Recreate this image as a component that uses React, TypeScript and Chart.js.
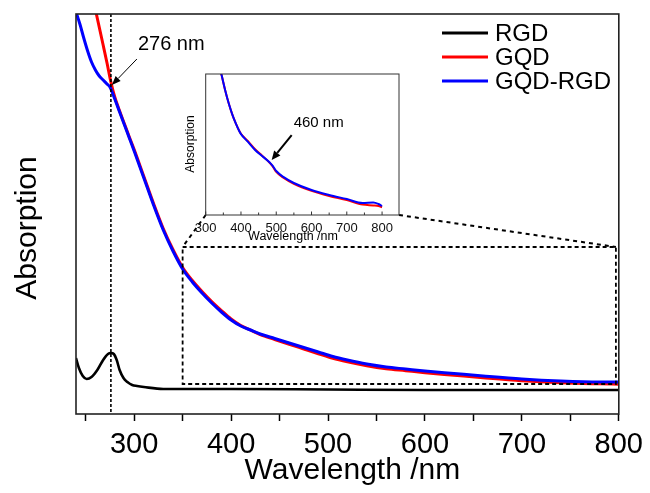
import React, { useEffect, useRef } from "react";
import { Chart, registerables } from "chart.js";

Chart.register(...registerables);

const FONT = 'Arial, "Liberation Sans", Helvetica, sans-serif';

// ---- Main spectra (wavelength in nm, absorbance in a.u.) ----
const wavelengthRGD = [240, 243, 247, 251, 256, 262, 268, 273, 276, 279, 282, 285, 289, 293, 298, 303, 310, 330, 400, 500, 600, 700, 800];
const absorptionRGD = [0.56, 0.46, 0.38, 0.35, 0.37, 0.44, 0.54, 0.6, 0.61, 0.6, 0.54, 0.44, 0.36, 0.32, 0.29, 0.28, 0.27, 0.25, 0.25, 0.245, 0.24, 0.24, 0.24];

const wavelengthGQD = [255, 261, 268, 272, 276, 280, 285, 290, 295, 300, 310, 320, 330, 340, 350, 360, 370, 380, 390, 400, 410, 420, 430, 445, 460, 475, 490, 505, 520, 540, 560, 580, 600, 630, 660, 700, 740, 780, 800];
const absorptionGQD = [4.26, 4.0, 3.69, 3.51, 3.32, 3.17, 3.03, 2.9, 2.77, 2.645, 2.375, 2.105, 1.855, 1.645, 1.465, 1.335, 1.225, 1.125, 1.035, 0.95, 0.885, 0.84, 0.795, 0.745, 0.697, 0.65, 0.603, 0.557, 0.522, 0.483, 0.453, 0.433, 0.413, 0.388, 0.363, 0.333, 0.313, 0.302, 0.298];

const wavelengthGQDRGD = [240, 244, 248, 252, 256, 260, 264, 268, 272, 275, 280, 285, 290, 295, 300, 310, 320, 330, 340, 350, 360, 370, 380, 390, 400, 410, 420, 430, 445, 460, 475, 490, 505, 520, 540, 560, 580, 600, 630, 660, 700, 740, 780, 800];
const absorptionGQDRGD = [4.02, 3.9, 3.76, 3.63, 3.52, 3.44, 3.38, 3.34, 3.3, 3.27, 3.15, 3.02, 2.89, 2.76, 2.63, 2.36, 2.09, 1.84, 1.63, 1.45, 1.32, 1.21, 1.11, 1.02, 0.94, 0.88, 0.84, 0.8, 0.755, 0.71, 0.665, 0.62, 0.575, 0.54, 0.5, 0.47, 0.45, 0.43, 0.405, 0.38, 0.35, 0.33, 0.32, 0.32];

// ---- Inset: zoom of the visible region ----
const insetWavelength = [338, 345, 355, 365, 375, 385, 395, 400, 420, 440, 460, 480, 490, 500, 520, 550, 600, 650, 700, 745, 775, 790, 800];
const insetGQD = [1.06, 0.993, 0.887, 0.794, 0.716, 0.652, 0.598, 0.576, 0.523, 0.466, 0.421, 0.374, 0.344, 0.306, 0.264, 0.221, 0.171, 0.135, 0.106, 0.074, 0.068, 0.064, 0.055];
const insetGQDRGD = [1.06, 0.993, 0.887, 0.794, 0.716, 0.652, 0.596, 0.574, 0.518, 0.461, 0.418, 0.376, 0.348, 0.312, 0.27, 0.227, 0.177, 0.142, 0.113, 0.085, 0.089, 0.078, 0.064];

// ---- Axis ticks and annotation values ----
const mainTicks = [250, 300, 350, 400, 450, 500, 550, 600, 650, 700, 750, 800];
const insetTicks = [300, 350, 400, 450, 500, 550, 600, 650, 700, 750, 800];
const peakWavelength = 276;
const peakAbsorption = 3.28;
const zoomBox = { x0: 350, x1: 797, y0: 0.3, y1: 1.67 };
const shoulderWavelength = 487;
const shoulderAbsorption = 0.39;

const seriesNames = ["RGD", "GQD", "GQD-RGD"];
const seriesColors = ["#000000", "#ff0000", "#0000ff"];

const toPoints = (xs: number[], ys: number[]) => xs.map((x, i) => ({ x, y: ys[i] }));

// inset canvas placement in page pixels (also used for the connector lines)
const INSET = { left: 170, top: 64, width: 240, height: 185, padL: 35.7, padT: 10, padR: 11, axisH: 34 };

function drawArrow(ctx: CanvasRenderingContext2D, x1: number, y1: number, x2: number, y2: number, lw: number, headLen: number, headW: number) {
  const ang = Math.atan2(y2 - y1, x2 - x1);
  const bx = x2 - headLen * Math.cos(ang);
  const by = y2 - headLen * Math.sin(ang);
  ctx.save();
  ctx.strokeStyle = "#000";
  ctx.fillStyle = "#000";
  ctx.lineWidth = lw;
  ctx.setLineDash([]);
  ctx.beginPath();
  ctx.moveTo(x1, y1);
  ctx.lineTo(bx, by);
  ctx.stroke();
  ctx.beginPath();
  ctx.moveTo(x2, y2);
  ctx.lineTo(bx + (headW / 2) * Math.sin(ang), by - (headW / 2) * Math.cos(ang));
  ctx.lineTo(bx - (headW / 2) * Math.sin(ang), by + (headW / 2) * Math.cos(ang));
  ctx.closePath();
  ctx.fill();
  ctx.restore();
}

const mainDecor = {
  id: "mainDecor",
  afterDatasetsDraw(chart: any) {
    const { ctx, chartArea: a, scales } = chart;
    const xs = scales.x;
    const ys = scales.y;
    ctx.save();

    // dashed marker at the 276 nm band
    const px = xs.getPixelForValue(peakWavelength);
    ctx.strokeStyle = "#000";
    ctx.lineWidth = 1.6;
    ctx.setLineDash([3, 2]);
    ctx.beginPath();
    ctx.moveTo(px, a.top);
    ctx.lineTo(px, a.bottom);
    ctx.stroke();

    // dashed box of the magnified region
    const bx0 = xs.getPixelForValue(zoomBox.x0);
    const bx1 = xs.getPixelForValue(zoomBox.x1);
    const by0 = ys.getPixelForValue(zoomBox.y0);
    const by1 = ys.getPixelForValue(zoomBox.y1);
    ctx.lineWidth = 1.8;
    ctx.setLineDash([4, 3]);
    ctx.strokeRect(bx0, by1, bx1 - bx0, by0 - by1);

    // connectors to the inset
    const iL = INSET.left + INSET.padL;
    const iR = INSET.left + INSET.width - INSET.padR;
    const iB = INSET.top + INSET.height - INSET.axisH;
    ctx.lineWidth = 2;
    ctx.setLineDash([4, 4]);
    ctx.beginPath();
    ctx.moveTo(iL, iB);
    ctx.lineTo(bx0, by1);
    ctx.moveTo(iR, iB);
    ctx.lineTo(bx1, by1);
    ctx.stroke();
    ctx.setLineDash([]);

    // frame
    ctx.strokeStyle = "#222";
    ctx.lineWidth = 1.6;
    ctx.strokeRect(a.left, a.top, a.right - a.left, a.bottom - a.top);

    // 276 nm label and arrow
    const tipX = px + 1;
    const tipY = ys.getPixelForValue(peakAbsorption) - 1;
    drawArrow(ctx, tipX + 25, tipY - 26, tipX, tipY, 1, 9, 7);
    ctx.fillStyle = "#000";
    ctx.font = `20px ${FONT}`;
    ctx.textAlign = "left";
    ctx.textBaseline = "middle";
    ctx.fillText("276 nm", tipX + 26, tipY - 41);

    // legend
    const lx0 = 442, lx1 = 488, ly0 = 33, dy = 24;
    ctx.font = `24px ${FONT}`;
    seriesNames.forEach((n, i) => {
      const y = ly0 + i * dy;
      ctx.strokeStyle = seriesColors[i];
      ctx.lineWidth = 3;
      ctx.beginPath();
      ctx.moveTo(lx0, y);
      ctx.lineTo(lx1, y);
      ctx.stroke();
      ctx.fillStyle = "#000";
      ctx.fillText(n, 495, y + 1);
    });

    // axis titles
    ctx.font = `30px ${FONT}`;
    ctx.textAlign = "center";
    ctx.fillText("Wavelength /nm", (a.left + a.right) / 2 + 5, 471);
    ctx.save();
    ctx.translate(28, 228);
    ctx.rotate(-Math.PI / 2);
    ctx.fillText("Absorption", 0, 0);
    ctx.restore();

    ctx.restore();
  },
};

const insetDecor = {
  id: "insetDecor",
  afterDatasetsDraw(chart: any) {
    const { ctx, chartArea: a, scales } = chart;
    const xs = scales.x;
    const ys = scales.y;
    ctx.save();
    ctx.strokeStyle = "#333";
    ctx.lineWidth = 1;
    ctx.strokeRect(a.left, a.top, a.right - a.left, a.bottom - a.top);

    // inward ticks
    insetTicks.forEach((v) => {
      const x = xs.getPixelForValue(v);
      const len = v % 100 === 0 ? 3.5 : 2.5;
      ctx.beginPath();
      ctx.moveTo(x, a.bottom);
      ctx.lineTo(x, a.bottom - len);
      ctx.stroke();
    });

    // 460 nm arrow
    const tx = xs.getPixelForValue(shoulderWavelength);
    const ty = ys.getPixelForValue(shoulderAbsorption);
    drawArrow(ctx, tx + 20, ty - 25, tx, ty, 2, 9, 8);
    ctx.fillStyle = "#000";
    ctx.font = `15px ${FONT}`;
    ctx.textAlign = "center";
    ctx.textBaseline = "middle";
    ctx.fillText("460 nm", tx + 47, ty - 37);

    // titles
    ctx.font = `12.5px ${FONT}`;
    ctx.fillText("Wavelength /nm", 123, 173);
    ctx.save();
    ctx.translate(21, 80);
    ctx.rotate(-Math.PI / 2);
    ctx.font = `12px ${FONT}`;
    ctx.fillText("Absorption", 0, 0);
    ctx.restore();
    ctx.restore();
  },
};

export default function App() {
  const mainRef = useRef<HTMLCanvasElement>(null);
  const insetRef = useRef<HTMLCanvasElement>(null);

  useEffect(() => {
    const line = (label: string, data: any, color: string, width: number, order: number) => ({
      label,
      data,
      borderColor: color,
      backgroundColor: color,
      borderWidth: width,
      pointRadius: 0,
      cubicInterpolationMode: "monotone" as const,
      fill: false,
      order,
    });

    const main = new Chart(mainRef.current!, {
      type: "line",
      data: {
        datasets: [
          line("RGD", toPoints(wavelengthRGD, absorptionRGD), seriesColors[0], 2.6, 2),
          line("GQD", toPoints(wavelengthGQD, absorptionGQD), seriesColors[1], 3, 1),
          line("GQD-RGD", toPoints(wavelengthGQDRGD, absorptionGQDRGD), seriesColors[2], 3, 0),
        ],
      },
      options: {
        animation: false,
        responsive: false,
        maintainAspectRatio: false,
        layout: { padding: { left: 76, right: 31, top: 14, bottom: 0 } },
        plugins: { legend: { display: false }, tooltip: { enabled: false } },
        scales: {
          x: {
            type: "linear",
            min: 240,
            max: 800,
            afterBuildTicks: (s: any) => {
              s.ticks = mainTicks.map((v) => ({ value: v }));
            },
            afterFit: (s: any) => {
              s.height = 79;
            },
            ticks: {
              callback: (v: any) => (Number(v) % 100 === 0 ? String(v) : ""),
              font: { family: FONT, size: 29 },
              color: "#000",
              padding: 7,
              autoSkip: false,
              maxRotation: 0,
            },
            grid: { display: true, drawOnChartArea: false, drawTicks: true, tickLength: 7, tickWidth: 1.5, tickColor: "#000" },
            border: { display: false },
          },
          y: { display: false, min: 0, max: 4 },
        },
      },
      plugins: [mainDecor],
    });

    const inset = new Chart(insetRef.current!, {
      type: "line",
      data: {
        datasets: [
          line("GQD", toPoints(insetWavelength, insetGQD), seriesColors[1], 2, 1),
          line("GQD-RGD", toPoints(insetWavelength, insetGQDRGD), seriesColors[2], 2, 0),
        ],
      },
      options: {
        animation: false,
        responsive: false,
        maintainAspectRatio: false,
        layout: { padding: { left: INSET.padL, right: INSET.padR, top: INSET.padT, bottom: 0 } },
        plugins: { legend: { display: false }, tooltip: { enabled: false } },
        scales: {
          x: {
            type: "linear",
            min: 300,
            max: 848,
            afterBuildTicks: (s: any) => {
              s.ticks = insetTicks.map((v) => ({ value: v }));
            },
            afterFit: (s: any) => {
              s.height = INSET.axisH;
            },
            ticks: {
              callback: (v: any) => (Number(v) % 100 === 0 ? String(v) : ""),
              font: { family: FONT, size: 13 },
              color: "#111",
              padding: 6,
              autoSkip: false,
              maxRotation: 0,
            },
            grid: { display: true, drawOnChartArea: false, drawTicks: false },
            border: { display: false },
          },
          y: { display: false, min: 0, max: 1 },
        },
      },
      plugins: [insetDecor],
    });

    return () => {
      main.destroy();
      inset.destroy();
    };
  }, []);

  return (
    <div style={{ position: "absolute", left: 0, top: 0, width: 650, height: 493, background: "#fff" }}>
      <canvas ref={mainRef} width={650} height={493} style={{ position: "absolute", left: 0, top: 0, width: 650, height: 493 }} />
      <canvas
        ref={insetRef}
        width={INSET.width}
        height={INSET.height}
        style={{ position: "absolute", left: INSET.left, top: INSET.top, width: INSET.width, height: INSET.height }}
      />
    </div>
  );
}
